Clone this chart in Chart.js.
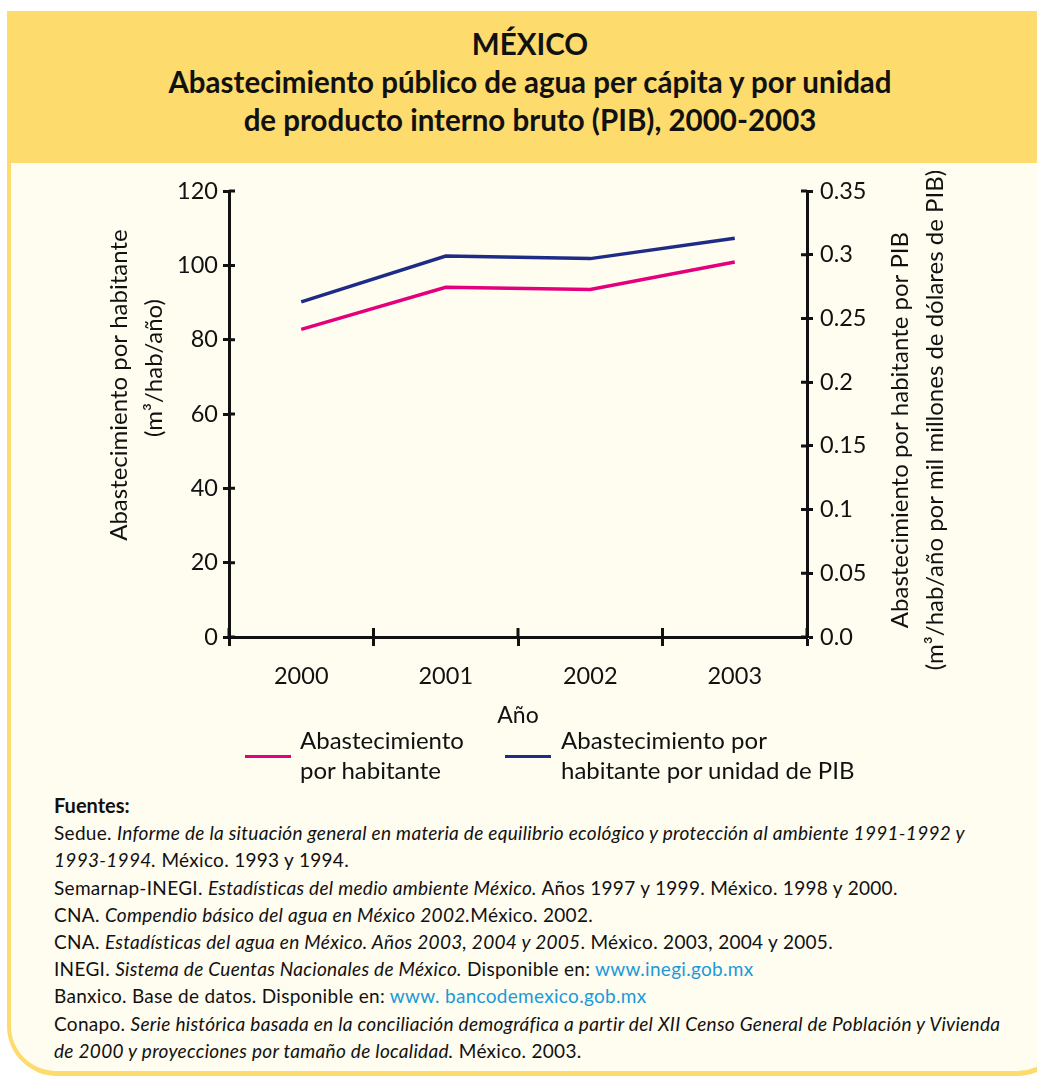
<!DOCTYPE html>
<html lang="es">
<head>
<meta charset="utf-8">
<title>México - Abastecimiento público de agua</title>
<script src="https://cdn.jsdelivr.net/npm/chart.js@4.4.1/dist/chart.umd.min.js"></script>
<style>
    html, body {
        margin: 0;
        padding: 0;
        width: 1037px;
        height: 1076px;
        overflow: hidden;
        background: #ffffff;
        font-family: 'Lato', 'Open Sans', sans-serif;
        color: #111;
    }
    .frame {
        position: absolute;
        left: 7px;
        top: 11px;
        width: 1060px;
        height: 1065px;
        background: #fddb6d;
        border-radius: 0 0 50px 50px;
    }
    .inner {
        position: absolute;
        left: 4px;
        top: 152px;
        right: 4px;
        bottom: 5px;
        background: #fffcf0;
        border-radius: 0 0 45px 45px;
    }
    .title {
        position: absolute;
        left: 0;
        top: 25px;
        font-weight: bold;
        font-size: 29.5px;
        line-height: 38px;
        color: #111;
    }
    .title div { position: absolute; left: 0; width: 1060px; text-align: center; white-space: nowrap; }
    #chart-wrap {
        position: absolute;
        left: 80px;
        top: 170px;
        width: 900px;
        height: 560px;
    }
    #legend {
        position: absolute;
        left: 0;
        top: 0;
        font-size: 24px;
        line-height: 30px;
    }
    .leg-item { position: absolute; white-space: nowrap; }
    .leg-swatch { position: absolute; height: 3px; width: 46px; }
    .leg-text { position: absolute; }
    .sources {
        position: absolute;
        left: 54px;
        top: 792px;
        font-size: 19px;
        letter-spacing: 0.3px;
        line-height: 27.2px;
        white-space: nowrap;
        color: #111;
    }
    .sources b { font-weight: bold; font-size: 20px; letter-spacing: 0; }
    .sources a { color: #1b9ad8; text-decoration: none; }
</style>
</head>
<body>
<div class="frame"><div class="inner"></div></div>
<div class="title">
    <div style="top:0">MÉXICO</div>
    <div style="top:38px">Abastecimiento público de agua per cápita y por unidad</div>
    <div style="top:76px">de producto interno bruto (PIB), 2000-2003</div>
</div>
<div id="chart-wrap"><canvas id="mainChart" width="900" height="560"></canvas></div>
<div id="legend"></div>
<div class="sources">
    <b>Fuentes:</b><br>
    Sedue. <i>Informe de la situación general en materia de equilibrio ecológico y protección al ambiente 1991-1992 y</i><br>
    <i>1993-1994.</i> México. 1993 y 1994.<br>
    Semarnap-INEGI. <i>Estadísticas del medio ambiente México.</i> Años 1997 y 1999. México. 1998 y 2000.<br>
    CNA. <i>Compendio básico del agua en México 2002.</i>México. 2002.<br>
    CNA. <i>Estadísticas del agua en México. Años 2003, 2004 y 2005</i>. México. 2003, 2004 y 2005.<br>
    INEGI. <i>Sistema de Cuentas Nacionales de México.</i> Disponible en: <a>www.inegi.gob.mx</a><br>
    Banxico. Base de datos. Disponible en: <a>www. bancodemexico.gob.mx</a><br>
    Conapo. <i>Serie histórica basada en la conciliación demográfica a partir del XII Censo General de Población y Vivienda</i><br>
    <i>de 2000 y proyecciones por tamaño de localidad.</i> México. 2003.
</div>
<script>
// Data
const years = ['2000', '2001', '2002', '2003'];
const perCapita = [82.8, 94.1, 93.5, 100.9];          // m3/hab/año (left axis)
const perCapitaPIB = [0.263, 0.299, 0.297, 0.313];    // right axis

const seriesNames = [
    ['Abastecimiento', 'por habitante'],
    ['Abastecimiento por', 'habitante por unidad de PIB']
];
const seriesColors = ['#e4007c', '#1f2c86'];

const leftTicks = [0, 20, 40, 60, 80, 100, 120];
const rightTickLabels = ['0.0', '0.05', '0.1', '0.15', '0.2', '0.25', '0.3', '0.35'];

const xTitle = 'Año';
const leftTitle = ['Abastecimiento por habitante', '(m³/hab/año)'];
const rightTitle = ['Abastecimiento por habitante por PIB', '(m³/hab/año por mil millones de dólares de PIB)'];

const FONT = 'Lato';
const INK = '#111';

// short tick stubs pointing into the plot, so ticks cross the axis lines
const innerTicks = {
    id: 'innerTicks',
    afterDraw(chart) {
        const { ctx, chartArea, scales } = chart;
        ctx.save();
        ctx.strokeStyle = INK;
        ctx.lineWidth = 3;
        ctx.beginPath();
        scales.y.ticks.forEach((t, i) => {
            const y = scales.y.getPixelForTick(i);
            ctx.moveTo(chartArea.left, y);
            ctx.lineTo(chartArea.left + 6, y);
        });
        scales.y1.ticks.forEach((t, i) => {
            const y = scales.y1.getPixelForTick(i);
            ctx.moveTo(chartArea.right - 6, y);
            ctx.lineTo(chartArea.right, y);
        });
        const xs = scales.x;
        const n = xs.ticks.length;
        for (let i = 0; i <= n; i++) {
            let x;
            if (i === 0) x = xs.left;
            else if (i === n) x = xs.right;
            else x = (xs.getPixelForTick(i - 1) + xs.getPixelForTick(i)) / 2;
            ctx.moveTo(x, chartArea.bottom);
            ctx.lineTo(x, chartArea.bottom - 9);
        }
        ctx.stroke();
        ctx.restore();
    }
};

// both vertical titles read bottom-to-top, as in the original
const axisTitles = {
    id: 'axisTitles',
    afterDraw(chart) {
        const { ctx, chartArea } = chart;
        const midY = (chartArea.top + chartArea.bottom) / 2;
        const put = (text, x, y) => {
            ctx.save();
            ctx.translate(x, y);
            ctx.rotate(-Math.PI / 2);
            ctx.fillText(text, 0, 0);
            ctx.restore();
        };
        ctx.save();
        ctx.fillStyle = INK;
        ctx.font = `24px ${FONT}`;
        ctx.textAlign = 'center';
        ctx.textBaseline = 'middle';
        put(leftTitle[0], chartArea.left - 110, midY - 29);
        put(leftTitle[1], chartArea.left - 75, midY - 46);
        put(rightTitle[0], chartArea.right + 93, midY + 16);
        put(rightTitle[1], chartArea.right + 128, midY + 6);
        ctx.restore();
    }
};

const tickFont = { family: FONT, size: 23.5 };

const mainChart = new Chart(document.getElementById('mainChart').getContext('2d'), {
    type: 'line',
    data: {
        labels: years,
        datasets: [
            {
                label: seriesNames[0].join(' '),
                data: perCapita,
                borderColor: seriesColors[0],
                backgroundColor: seriesColors[0],
                borderWidth: 3.5,
                pointRadius: 0,
                tension: 0,
                yAxisID: 'y'
            },
            {
                label: seriesNames[1].join(' '),
                data: perCapitaPIB,
                borderColor: seriesColors[1],
                backgroundColor: seriesColors[1],
                borderWidth: 3.5,
                pointRadius: 0,
                tension: 0,
                yAxisID: 'y1'
            }
        ]
    },
    options: {
        responsive: false,
        animation: false,
        layout: { padding: { top: 18, left: 0, right: 0, bottom: 0 } },
        plugins: {
            legend: { display: false },
            tooltip: { enabled: false }
        },
        scales: {
            x: {
                offset: true,
                grid: {
                    offset: true,
                    drawOnChartArea: false,
                    tickLength: 9,
                    tickWidth: 3,
                    tickColor: INK
                },
                border: { color: INK, width: 3 },
                ticks: { color: INK, font: tickFont, padding: 16, maxRotation: 0 },
                title: {
                    display: true,
                    text: xTitle,
                    color: INK,
                    font: { family: FONT, size: 23 },
                    padding: { top: 0, bottom: 1 }
                },
                afterFit: (s) => { s.height = 93; }
            },
            y: {
                position: 'left',
                min: 0,
                max: 120,
                grid: {
                    drawOnChartArea: false,
                    tickLength: 6,
                    tickWidth: 3,
                    tickColor: INK
                },
                border: { color: INK, width: 3 },
                ticks: {
                    color: INK,
                    font: tickFont,
                    padding: 5,
                    stepSize: 20,
                    callback: (v, i) => leftTicks[i]
                },
                afterFit: (s) => { s.width = 149; }
            },
            y1: {
                position: 'right',
                min: 0,
                max: 0.35,
                grid: {
                    drawOnChartArea: false,
                    tickLength: 6,
                    tickWidth: 3,
                    tickColor: INK
                },
                border: { color: INK, width: 3 },
                ticks: {
                    color: INK,
                    font: tickFont,
                    padding: 7,
                    stepSize: 0.05,
                    callback: (v, i) => rightTickLabels[i]
                },
                afterFit: (s) => { s.width = 173; }
            }
        }
    },
    plugins: [innerTicks, axisTitles]
});

// HTML legend built from the datasets (two-line labels)
function buildLegend() {
    const legend = document.getElementById('legend');
    const spots = [{ x: 245, text: 300 }, { x: 505, text: 561 }];
    mainChart.data.datasets.forEach((ds, i) => {
        const item = document.createElement('div');
        item.className = 'leg-item';
        const sw = document.createElement('div');
        sw.className = 'leg-swatch';
        sw.style.left = spots[i].x + 'px';
        sw.style.top = '755px';
        sw.style.background = ds.borderColor;
        const txt = document.createElement('div');
        txt.className = 'leg-text';
        txt.style.left = spots[i].text + 'px';
        txt.style.top = '725px';
        txt.innerHTML = seriesNames[i].join('<br>');
        item.appendChild(sw);
        item.appendChild(txt);
        legend.appendChild(item);
    });
}

buildLegend();
</script>
</body>
</html>
